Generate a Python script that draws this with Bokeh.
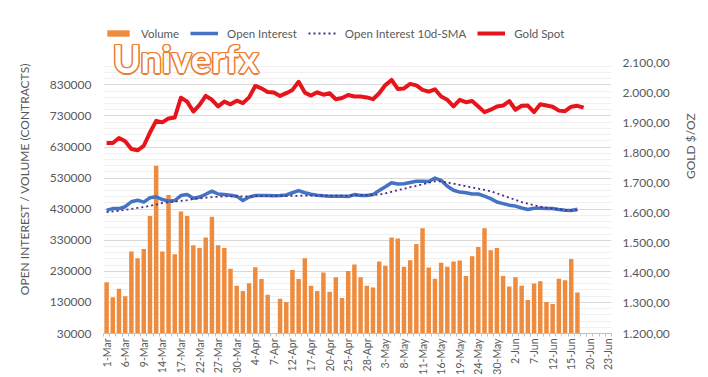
import math
from bokeh.plotting import figure
from bokeh.models import (ColumnDataSource, LinearAxis, Range1d, FixedTicker,
                          Legend, LegendItem, Label, NumeralTickFormatter)
from bokeh.embed import file_html
from bokeh.resources import INLINE

NaN = float("nan")

# ---- data ----
date_labels = ["1-Mar", "6-Mar", "9-Mar", "14-Mar", "17-Mar", "22-Mar", "27-Mar",
               "30-Mar", "4-Apr", "7-Apr", "12-Apr", "17-Apr", "20-Apr", "25-Apr",
               "28-Apr", "3-May", "8-May", "11-May", "16-May", "19-May", "24-May",
               "30-May", "2-Jun", "7-Jun", "12-Jun", "15-Jun", "20-Jun", "23-Jun"]
n_categories = 82

volume = [195000, 147000, 174000, 150000, 294000, 272000, 302000, 408000, 570000, 294000,
          476000, 285000, 423000, 408000, 314000, 305000, 339000, 406000, 314000, 305000,
          238000, 184000, 167000, 192000, 243000, 205000, 155000, NaN, 142000, 131000,
          234000, 205000, 272000, 184000, 167000, 226000, 164000, 211000, 144000, 231000,
          252000, 211000, 184000, 178000, 262000, 248000, 339000, 336000, 245000, 266000,
          318000, 369000, 242000, 206000, 258000, 245000, 262000, 265000, 215000, 279000,
          308000, 369000, 298000, 305000, 215000, 181000, 211000, 184000, 138000, 191000,
          198000, 131000, 125000, 206000, 201000, 270000, 162000]

open_interest = [427000, 432000, 432000, 438000, 454000, 459000, 453000, 467000, 470000, 461000,
                 456000, 458000, 474000, 477000, 465000, 469000, 478000, 488000, 479000, 477000,
                 475000, 472000, 458000, 469000, 474000, 474000, 474000, 473000, 474000, 476000,
                 483000, 490000, 483000, 478000, 475000, 473000, 472000, 472000, 472000, 471000,
                 477000, 474000, 474000, 477000, 490000, 502000, 515000, 511000, 512000, 516000,
                 520000, 520000, 519000, 530000, 523000, 504000, 491000, 485000, 483000, 479000,
                 479000, 472000, 464000, 453000, 448000, 443000, 440000, 434000, 429000, 433000,
                 433000, 432000, 432000, 429000, 427000, 426000, 430000]

oi_sma10 = [421000, 423000, 425000, 428000, 431000, 434000, 437000, 441000, 445000, 450000,
            452000, 455000, 457000, 459000, 463000, 465000, 467000, 469000, 470000, 471000,
            471000, 471000, 471000, 471000, 472000, 472000, 472000, 472000, 472000, 472000,
            473000, 473000, 474000, 474000, 474000, 474000, 474000, 474000, 474000, 474000,
            474000, 475000, 475000, 476000, 477000, 481000, 486000, 491000, 496000, 501000,
            505000, 510000, 515000, 520000, 519000, 516000, 512000, 508000, 504000, 500000,
            496000, 492000, 488000, 481000, 474000, 467000, 460000, 453000, 448000, 443000,
            438000, 435000, 432000, 430000, 428000, 427000, 426000]

gold_spot = [1834, 1834, 1851, 1840, 1814, 1810, 1825, 1869, 1908, 1903,
             1916, 1919, 1985, 1972, 1939, 1961, 1991, 1978, 1956, 1972,
             1963, 1975, 1967, 1986, 2024, 2016, 2004, 2002, 1991, 2000,
             2011, 2038, 2002, 1992, 2003, 1995, 2000, 1980, 1984, 1994,
             1989, 1989, 1986, 1980, 2000, 2027, 2044, 2014, 2016, 2031,
             2026, 2011, 2005, 2013, 1989, 1978, 1956, 1978, 1970, 1974,
             1956, 1937, 1945, 1956, 1959, 1974, 1945, 1958, 1959, 1937,
             1963, 1959, 1955, 1942, 1940, 1955, 1958, 1952]

left_ticks = [30000, 130000, 230000, 330000, 430000, 530000, 630000, 730000, 830000]
left_min, left_max = 30000, 900000
gold_ticks = [1200, 1300, 1400, 1500, 1600, 1700, 1800, 1900, 2000, 2100]
gold_tick_labels = ["1.200,00", "1.300,00", "1.400,00", "1.500,00", "1.600,00",
                    "1.700,00", "1.800,00", "1.900,00", "2.000,00", "2.100,00"]
gold_min, gold_max = 1200, 2100

# ---- styling ----
FONT = "Lato"
GREY = "#595959"
ORANGE = "#EF8B3D"
BLUE = "#4472C4"
PURPLE = "#4B2C83"
RED = "#E8141C"
HEADROOM = 0.143   # empty band above the axes' top, holding legend + watermark

p = figure(width=708, height=377, output_backend="svg", toolbar_location=None,
           x_range=Range1d(-0.5, n_categories - 0.5),
           y_range=Range1d(left_min, left_max + HEADROOM * (left_max - left_min)),
           min_border_left=103, min_border_right=96, min_border_top=24, min_border_bottom=42)
p.extra_y_ranges = {"gold": Range1d(gold_min, gold_max + HEADROOM * (gold_max - gold_min))}
p.outline_line_color = None
p.background_fill_color = "white"
p.border_fill_color = "white"

vol_src = ColumnDataSource(dict(x=list(range(len(volume))), v=volume))
oi_src = ColumnDataSource(dict(x=list(range(len(open_interest))), oi=open_interest, sma=oi_sma10))
gold_src = ColumnDataSource(dict(x=list(range(len(gold_spot))), g=gold_spot))

r_vol = p.vbar(x="x", top="v", bottom=left_min, width=0.72, source=vol_src,
               fill_color=ORANGE, line_color=None)
r_oi = p.line("x", "oi", source=oi_src, line_color=BLUE, line_width=3.5, line_join="round")
r_sma = p.line("x", "sma", source=oi_src, line_color=PURPLE, line_width=1.8,
               line_dash="2 3")
r_gold = p.line("x", "g", source=gold_src, y_range_name="gold", line_color=RED,
                line_width=4, line_join="round")

# left axis
minor_left = [left_min + 20000 * k for k in range(44)]
p.yaxis.ticker = FixedTicker(ticks=left_ticks, minor_ticks=minor_left)
p.yaxis.formatter = NumeralTickFormatter(format="0")
p.yaxis.axis_line_color = None
p.yaxis.major_tick_line_color = None
p.yaxis.minor_tick_line_color = None
p.yaxis.major_tick_out = 0
p.yaxis.minor_tick_out = 0
p.yaxis.major_label_standoff = 12
p.yaxis.major_label_text_font = FONT
p.yaxis.major_label_text_font_size = "12px"
p.yaxis.major_label_text_color = GREY
p.yaxis.axis_label = "OPEN INTEREST / VOLUME (CONTRACTS)"
p.yaxis.axis_label_text_font = FONT
p.yaxis.axis_label_text_font_size = "12px"
p.yaxis.axis_label_text_font_style = "normal"
p.yaxis.axis_label_text_color = GREY
p.yaxis.axis_label_standoff = 15

p.ygrid.grid_line_color = "#d9d9d9"
p.ygrid.minor_grid_line_color = "#f0f0f0"
p.xgrid.grid_line_color = None

# right axis
ax_r = LinearAxis(y_range_name="gold", ticker=FixedTicker(ticks=gold_ticks),
                  major_label_overrides={t: s for t, s in zip(gold_ticks, gold_tick_labels)})
ax_r.axis_line_color = None
ax_r.major_tick_line_color = None
ax_r.minor_tick_line_color = None
ax_r.major_tick_out = 0
ax_r.minor_tick_out = 0
ax_r.major_label_standoff = 11
ax_r.major_label_text_font = FONT
ax_r.major_label_text_font_size = "12px"
ax_r.major_label_text_color = GREY
ax_r.axis_label = "GOLD $/OZ"
ax_r.axis_label_orientation = math.pi / 2
ax_r.axis_label_text_font = FONT
ax_r.axis_label_text_font_size = "12px"
ax_r.axis_label_text_font_style = "normal"
ax_r.axis_label_text_color = GREY
ax_r.axis_label_standoff = 18
p.add_layout(ax_r, "right")

# bottom axis
x_ticks = [3 * i for i in range(len(date_labels))]
x_bounds = [k - 0.5 for k in range(n_categories + 1)]
p.xaxis.axis_label = None
p.xaxis.ticker = FixedTicker(ticks=x_ticks, minor_ticks=x_bounds)
p.xaxis.major_label_overrides = {t: s for t, s in zip(x_ticks, date_labels)}
p.xaxis.major_label_orientation = math.pi / 2
p.xaxis.major_label_text_font = FONT
p.xaxis.major_label_text_font_size = "10.5px"
p.xaxis.major_label_text_color = GREY
p.xaxis.major_label_standoff = 2
p.xaxis.axis_line_color = "#bfbfbf"
p.xaxis.major_tick_line_color = None
p.xaxis.major_tick_out = 0
p.xaxis.major_tick_in = 0
p.xaxis.minor_tick_line_color = "#bfbfbf"
p.xaxis.minor_tick_in = 0
p.xaxis.minor_tick_out = 3

# legend (in the band above the data)
legend = Legend(items=[LegendItem(label="Volume", renderers=[r_vol]),
                       LegendItem(label="Open Interest", renderers=[r_oi]),
                       LegendItem(label="Open Interest 10d-SMA", renderers=[r_sma]),
                       LegendItem(label="Gold Spot", renderers=[r_gold])],
                orientation="horizontal", location="top_left",
                background_fill_alpha=0, border_line_color=None,
                glyph_width=28, glyph_height=8, label_standoff=9, spacing=11,
                padding=0, margin=1, label_height=16,
                label_text_font=FONT, label_text_font_size="11.5px",
                label_text_color=GREY)
p.add_layout(legend)

# watermark "Univerfx" (orange outline, white fill)
WM_X, WM_Y = 1.0, 842000
for dx, dy in [(-1.5, 0), (1.5, 0), (0, -1.5), (0, 1.5), (-1.1, -1.1), (1.1, 1.1), (-1.1, 1.1), (1.1, -1.1)]:
    p.add_layout(Label(x=WM_X, y=WM_Y, x_offset=dx, y_offset=dy,
                       text="Univerfx", text_font=FONT, text_font_size="38px",
                       text_font_style="bold", text_color="#ED7D31"))
p.add_layout(Label(x=WM_X, y=WM_Y, text="Univerfx", text_font=FONT, text_font_size="38px",
                   text_font_style="bold", text_color="white"))

open("out.html", "w").write(file_html(p, INLINE))
